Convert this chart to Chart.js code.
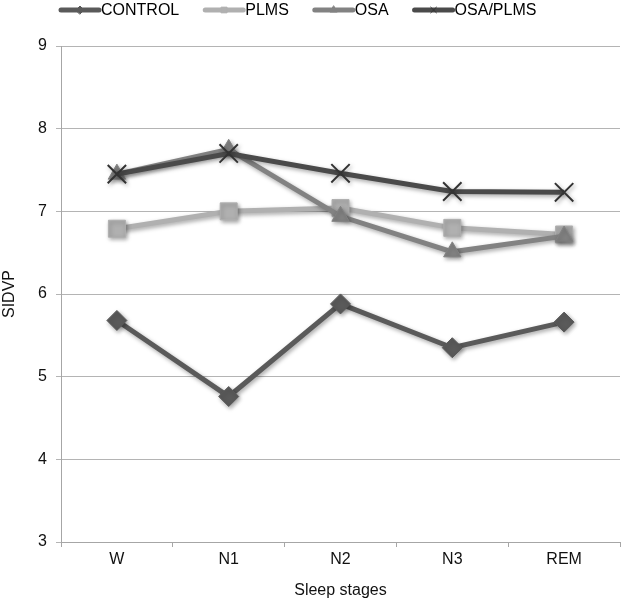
<!DOCTYPE html>
<html>
<head>
<meta charset="utf-8">
<script src="https://cdn.jsdelivr.net/npm/chart.js@4/dist/chart.umd.min.js"></script>
<style>
  html, body { margin: 0; padding: 0; background: #fff; }
  #wrap { width: 635px; height: 600px; }
</style>
</head>
<body>
<div id="wrap"><canvas id="chart" width="635" height="600"></canvas></div>
<script>
/* ===== DATA ===== */

const stages = ["W", "N1", "N2", "N3", "REM"];
const seriesNames = ["CONTROL", "PLMS", "OSA", "OSA/PLMS"];

const control = [5.68, 4.76, 5.88, 5.35, 5.66];
const plms = [6.79, 7.00, 7.04, 6.80, 6.72];
const osa = [7.45, 7.75, 6.94, 6.51, 6.70];
const osaPlms = [7.45, 7.70, 7.46, 7.24, 7.23];

const yTicks = [3, 4, 5, 6, 7, 8, 9];

/* ===== STYLE ===== */

const FONT = "'Liberation Sans', Arial, sans-serif";
const colors = ["#5a5a5a", "#b0b0b0", "#828282", "#4a4a4a"];
const markers = ["rectRot", "rect", "triangle", "crossRot"];
const markerSize = [10, 12, 10, 13];

function makeDataset(i, values) {
  return {
    label: seriesNames[i],
    data: values,
    borderColor: colors[i],
    backgroundColor: colors[i],
    borderWidth: 5,
    pointStyle: markers[i],
    pointRadius: markerSize[i],
    pointBorderWidth: markers[i] === "crossRot" ? 2 : 1,
    pointBorderColor: i === 3 ? "#333" : colors[i],
    pointBackgroundColor: colors[i],
    tension: 0,
    order: 3 - i
  };
}

/* ===== PLUGINS ===== */

// soft drop shadow like the office chart
const shadowPlugin = {
  id: "shadow",
  beforeDatasetsDraw(chart) {
    const ctx = chart.ctx;
    ctx.save();
    ctx.shadowColor = "rgba(0,0,0,0.35)";
    ctx.shadowBlur = 4;
    ctx.shadowOffsetX = 1.5;
    ctx.shadowOffsetY = 2;
  },
  afterDatasetsDraw(chart) {
    chart.ctx.restore();
  }
};

// legend drawn as line + marker, text right after
const legendPlugin = {
  id: "lineLegend",
  afterDraw(chart) {
    const ctx = chart.ctx;
    let x = 61;
    const y = 10;
    ctx.save();
    ctx.font = "16px " + FONT;
    ctx.textBaseline = "middle";
    chart.data.datasets.forEach((ds, i) => {
      ctx.strokeStyle = ds.borderColor;
      ctx.lineWidth = 5;
      ctx.lineCap = "round";
      ctx.beginPath();
      ctx.moveTo(x, y);
      ctx.lineTo(x + 38, y);
      ctx.stroke();

      ctx.fillStyle = ds.backgroundColor;
      ctx.strokeStyle = ds.pointBorderColor;
      ctx.lineWidth = 1;
      Chart.helpers.drawPoint(ctx, { pointStyle: ds.pointStyle, radius: 4, borderWidth: 1 }, x + 19, y);

      ctx.fillStyle = "#000";
      ctx.fillText(ds.label, x + 40, y + 1);
      x += 40 + ctx.measureText(ds.label).width + 26;
    });
    ctx.restore();
  }
};

/* ===== CHART ===== */

function initChart() {
  const canvas = document.getElementById("chart");

  return new Chart(canvas, {
    type: "line",
    data: {
      labels: stages,
      datasets: [
        makeDataset(0, control),
        makeDataset(1, plms),
        makeDataset(2, osa),
        makeDataset(3, osaPlms)
      ]
    },
    options: {
      responsive: false,
      devicePixelRatio: 1,
      animation: false,
      layout: { padding: { top: 46, right: 3, left: 0, bottom: 0 } },
      plugins: {
        legend: { display: false },
        tooltip: { enabled: false }
      },
      scales: {
        x: {
          offset: true,
          grid: {
            offset: true,
            drawOnChartArea: false,
            drawTicks: true,
            tickLength: 5,
            color: "#a6a6a6"
          },
          border: { color: "#a6a6a6", width: 1 },
          ticks: { color: "#111", font: { family: FONT, size: 16 }, padding: 3 },
          title: {
            display: true,
            text: "Sleep stages",
            color: "#111",
            font: { family: FONT, size: 16 },
            padding: { top: 1, bottom: 0 }
          },
          afterFit(scale) { scale.height = 58; }
        },
        y: {
          min: 3,
          max: 9,
          afterBuildTicks(scale) { scale.ticks = yTicks.map(v => ({ value: v })); },
          grid: { color: "#b4b4b4", tickLength: 5, lineWidth: 1 },
          border: { color: "#a6a6a6", width: 1 },
          ticks: { color: "#111", font: { family: FONT, size: 16 }, padding: 9 },
          title: {
            display: true,
            text: "SIDVP",
            color: "#111",
            font: { family: FONT, size: 16 },
            padding: { top: 0, bottom: 0 }
          },
          afterFit(scale) { scale.width = 61; }
        }
      }
    },
    plugins: [shadowPlugin, legendPlugin]
  });
}

/* ===== INIT ===== */

initChart();
</script>
</body>
</html>
